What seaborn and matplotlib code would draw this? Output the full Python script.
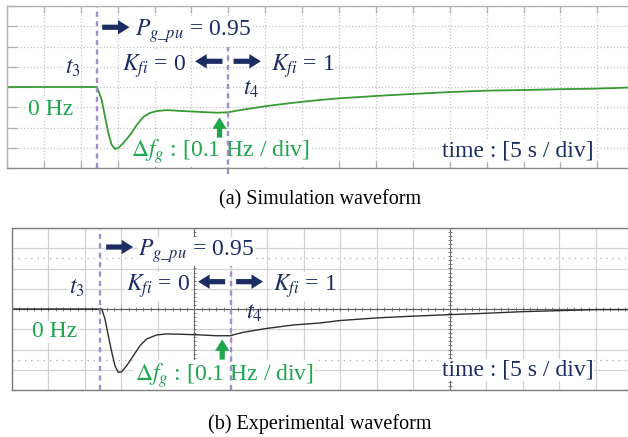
import numpy as np
import pandas as pd
import matplotlib
matplotlib.use("Agg")
import matplotlib.pyplot as plt
import seaborn as sns

# Frequency deviation after the power step (time in s, deviation in Hz)
sim_time = [0.0, 12.2, 12.83, 13.28, 13.73, 14.19, 14.63, 15.08, 15.76, 16.67,
            17.57, 18.47, 19.38, 20.28, 21.64, 23.85, 26.15, 28.41, 29.95,
            31.57, 35.19, 38.75, 42.41, 44.99, 50.10, 54.61, 60.03, 65.0,
            69.92, 74.93, 79.9, 84.14]
sim_df = [0.0, 0.0, -0.064, -0.147, -0.227, -0.286, -0.306, -0.301, -0.277,
          -0.237, -0.188, -0.148, -0.128, -0.119, -0.114, -0.119, -0.123,
          -0.127, -0.125, -0.114, -0.094, -0.078, -0.064, -0.056, -0.044,
          -0.035, -0.025, -0.018, -0.015, -0.011, -0.008, -0.003]

exp_time = [0.0, 12.29, 12.74, 13.19, 13.66, 14.11, 14.56, 15.03, 15.71, 16.62,
            17.54, 18.45, 19.82, 21.19, 23.47, 25.76, 28.04, 29.87, 31.69,
            34.89, 38.54, 42.20, 44.94, 49.96, 54.53, 59.91, 65.03, 70.05,
            75.08, 80.10, 84.39]
exp_df = [0.0, 0.0, -0.049, -0.131, -0.212, -0.280, -0.313, -0.310, -0.280,
          -0.231, -0.181, -0.148, -0.128, -0.123, -0.125, -0.128, -0.132,
          -0.132, -0.115, -0.096, -0.079, -0.069, -0.057, -0.044, -0.036,
          -0.028, -0.021, -0.013, -0.008, -0.003, -0.003]

# Event instants (s)
t3_sim, t4_sim = 12.2, 30.0
t3_exp, t4_exp = 12.06, 30.0

captions = ["(a) Simulation waveform", "(b) Experimental waveform"]

sns.set_theme(style="white")
plt.rcParams["font.family"] = ["Liberation Serif", "DejaVu Serif"]
plt.rcParams["mathtext.fontset"] = "stix"

NAVY = "#1b2d63"
GREEN = "#1ea64c"
PURPLE = "#a28ec8"
SIM_GREEN = "#379a33"
FS = 17

W, H = 628, 437
fig = plt.figure(figsize=(W / 100, H / 100), dpi=100)


def px_axes(left, top, right, bottom):
    return fig.add_axes([left / W, 1 - bottom / H, (right - left) / W, (bottom - top) / H])


ax1 = px_axes(7, 6, 628, 168)
ax2 = px_axes(12, 228, 628, 390)


def base(ax, xmax):
    ax.set_xlim(0, xmax)
    ax.set_ylim(-0.4, 0.4)
    ax.set_xticks(np.arange(0, xmax, 5))
    ax.set_yticks(np.round(np.arange(-0.4, 0.41, 0.1), 2))
    ax.set_xlabel("")
    ax.set_ylabel("")
    ax.spines["right"].set_visible(False)
    for sp in ax.spines.values():
        sp.set_zorder(7)


box = dict(facecolor="white", edgecolor="none", pad=0.5)
ARROW = "simple,head_length=1.0,head_width=1.25,tail_width=0.45"


def arrow(ax, start, end, color):
    ax.annotate("", xy=end, xytext=start,
                arrowprops=dict(arrowstyle=ARROW, color=color, lw=0,
                                shrinkA=0, shrinkB=0, mutation_scale=8.3),
                zorder=6)


def labels(ax, pz, kz, t3y, t4y, hzy, dy, tmy):
    arrow(ax, (12.9, pz + 0.043), (16.6, pz + 0.043), NAVY)
    ax.text(17.3, pz, r"$P_{g\_pu}$ = 0.95", color=NAVY, fontsize=FS, va="baseline", bbox=box, zorder=4)
    ax.text(15.6, kz, r"$K_{fi}$ = 0", color=NAVY, fontsize=FS, va="baseline", bbox=box, zorder=4)
    arrow(ax, (29.2, kz + 0.045), (25.5, kz + 0.045), NAVY)
    arrow(ax, (30.7, kz + 0.045), (34.4, kz + 0.045), NAVY)
    ax.text(35.8, kz, r"$K_{fi}$ = 1", color=NAVY, fontsize=FS, va="baseline", bbox=box, zorder=4)
    ax.text(7.8, t3y, r"$t_3$", color=NAVY, fontsize=FS, va="baseline", bbox=box, zorder=4)
    ax.text(32.0, t4y, r"$t_4$", color=NAVY, fontsize=FS, va="baseline", zorder=4)
    ax.text(2.8, hzy, "0 Hz", color=GREEN, fontsize=FS, va="baseline", bbox=box, zorder=4)
    arrow(ax, (28.8, -0.25), (28.8, -0.15), GREEN)
    ax.text(16.8, dy, r"$\Delta f_g$ : [0.1 Hz / div]", color=GREEN, fontsize=FS,
            va="baseline", bbox=box, zorder=4)
    ax.text(58.9, tmy, "time : [5 s / div]", color=NAVY, fontsize=FS,
            va="baseline", bbox=box, zorder=4)


# ---- (a) simulation ----
sim = pd.DataFrame({"t": sim_time, "df": sim_df})
sns.lineplot(data=sim, x="t", y="df", ax=ax1, color=SIM_GREEN, lw=1.3, zorder=3)
base(ax1, 84.15)
ax1.grid(True, ls=":", color="#c2c2c2", lw=0.9)
for s in ("top", "left"):
    ax1.spines[s].set_color("#b4b4b4")
ax1.spines["bottom"].set_color("#8c8c8c")
for s in ("top", "left", "bottom"):
    ax1.spines[s].set_linewidth(1.0)
ax1.tick_params(direction="in", length=5, width=0.9, color="#b0b0b0",
                top=True, bottom=True, left=True, right=False,
                labelbottom=False, labelleft=False)
ax1.tick_params(axis="y", length=7)
ax1.axvline(t3_sim, color=PURPLE, ls=(0, (2.2, 1.8)), lw=1.7, zorder=5)
ax1.plot([t4_sim, t4_sim], [-0.43, 0.198], color=PURPLE, ls=(0, (2.2, 1.8)),
         lw=1.7, zorder=5, clip_on=False)
labels(ax1, 0.252, 0.082, 0.066, -0.040, -0.138, -0.344, -0.344)

# ---- (b) experiment ----
exp = pd.DataFrame({"t": exp_time, "df": exp_df})
base(ax2, 84.4)
ax2.grid(True, ls="-", color="#d2d2d2", lw=0.9)
for s in ("top", "left", "bottom"):
    ax2.spines[s].set_color("#7c7c7c")
    ax2.spines[s].set_linewidth(1.0)
ax2.tick_params(length=0, labelbottom=False, labelleft=False)
for yv in (-0.25, 0.25):
    ax2.axhline(yv, ls=(0, (1, 4)), color="#a8a8a8", lw=0.9, zorder=1)
ax2.axhline(0, color="#5a5a5a", lw=0.8, zorder=2)
ax2.vlines(np.arange(0, 84.4, 1.0), -0.009, 0.009, color="#6a6a6a", lw=0.6, zorder=2)
for xc in (25, 60):
    ax2.axvline(xc, color="#6a6a6a", lw=0.7, zorder=2)
    ax2.hlines(np.arange(-0.4, 0.41, 0.02), xc - 0.25, xc + 0.25, color="#6a6a6a", lw=0.6, zorder=2)
sns.lineplot(data=exp, x="t", y="df", ax=ax2, color="#2e2e2e", lw=1.0, zorder=3)
ax2.set_xlabel("")
ax2.set_ylabel("")
ax2.axvline(t3_exp, color=PURPLE, ls=(0, (2.2, 1.8)), lw=1.7, zorder=5)
ax2.plot([t4_exp, t4_exp], [-0.4, 0.212], color=PURPLE, ls=(0, (2.2, 1.8)),
         lw=1.7, zorder=5)
labels(ax2, 0.263, 0.090, 0.074, -0.046, -0.140, -0.354, -0.329)

fig.text(320 / W, 1 - 200 / H, captions[0], ha="center", va="center", fontsize=14.5, color="black")
fig.text(320 / W, 1 - 424 / H, captions[1], ha="center", va="center", fontsize=14.5, color="black")

fig.savefig("out.png", dpi=100, facecolor="white")
